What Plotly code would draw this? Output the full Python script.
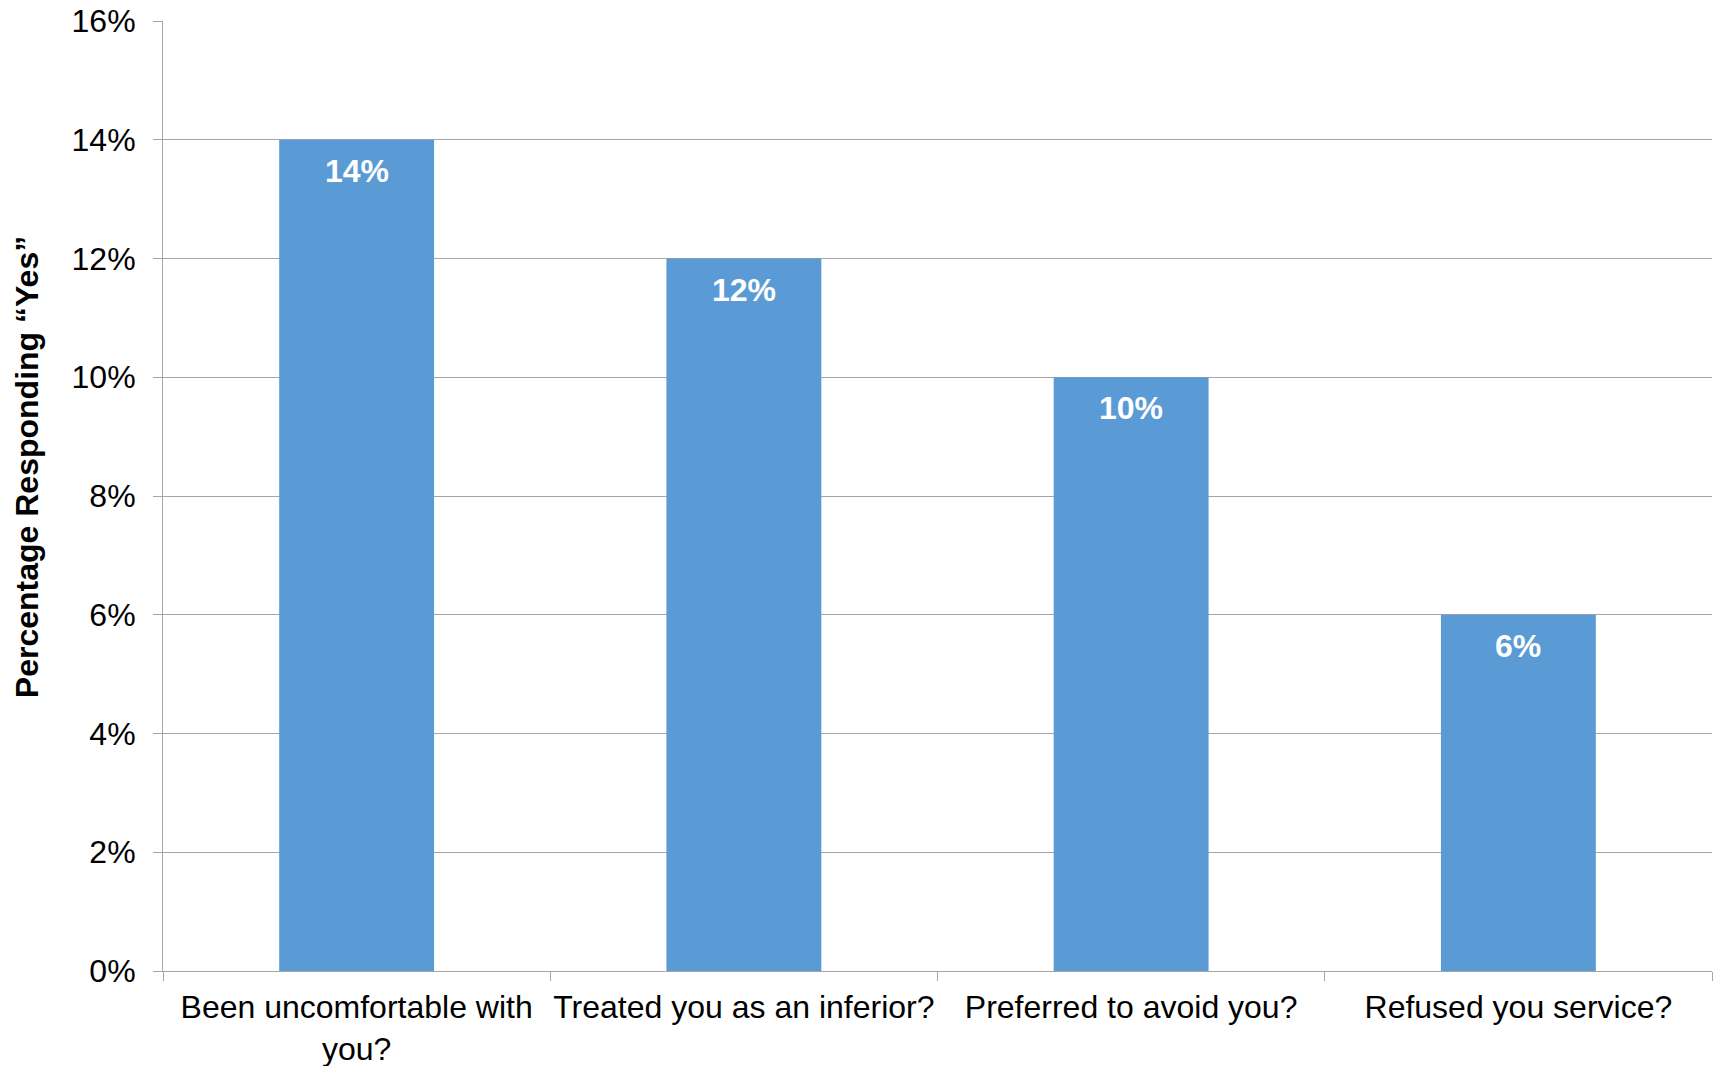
import plotly.graph_objects as go

# Survey responses: share answering "Yes" to each question
categories = [
    "Been uncomfortable with<br>you?",
    "Treated you as an inferior?",
    "Preferred to avoid you?",
    "Refused you service?",
]
values = [14, 12, 10, 6]
y_ticks = [0, 2, 4, 6, 8, 10, 12, 14, 16]

BAR_COLOR = "#5B9BD5"
GRID_COLOR = "#A6A6A6"
FONT = "Liberation Sans, Arial, sans-serif"

fig = go.Figure(
    go.Bar(
        x=categories,
        y=values,
        marker=dict(color=BAR_COLOR, line=dict(width=0)),
        width=0.4,
        hoverinfo="skip",
    )
)

# Value labels inside the top of each bar
for c, v in zip(categories, values):
    fig.add_annotation(
        x=c, y=v, xref="x", yref="y",
        text=f"<b>{v}%</b>",
        showarrow=False,
        yanchor="middle",
        yshift=-31,
        font=dict(family=FONT, size=32, color="white"),
    )

# Rotated y-axis title
fig.add_annotation(
    xref="paper", yref="paper",
    x=-0.0877, y=0.5305,
    text="<b>Percentage Responding “Yes”</b>",
    textangle=-90,
    showarrow=False,
    xanchor="center", yanchor="middle",
    font=dict(family=FONT, size=32, color="black"),
)

fig.update_layout(
    width=1718,
    height=1066,
    margin=dict(l=163, r=6, t=21, b=95, autoexpand=False),
    paper_bgcolor="white",
    plot_bgcolor="white",
    showlegend=False,
    font=dict(family=FONT, color="black"),
    xaxis=dict(
        type="category",
        automargin=False,
        tickangle=0,
        tickson="boundaries",
        ticks="outside",
        ticklen=9,
        tickcolor=GRID_COLOR,
        tickwidth=1,
        showline=True,
        linecolor=GRID_COLOR,
        linewidth=1,
        showgrid=False,
        tickfont=dict(family=FONT, size=32, color="black"),
        ticklabelstandoff=8,
    ),
    yaxis=dict(
        range=[0, 16],
        automargin=False,
        tickvals=y_ticks,
        ticktext=[f"{t}%" for t in y_ticks],
        ticks="outside",
        ticklen=9,
        tickcolor=GRID_COLOR,
        tickwidth=1,
        showline=True,
        linecolor=GRID_COLOR,
        linewidth=1,
        showgrid=True,
        gridcolor=GRID_COLOR,
        gridwidth=1,
        zeroline=False,
        tickfont=dict(family=FONT, size=32, color="black"),
        ticklabelstandoff=11,
    ),
)

fig.write_html("out.html")
